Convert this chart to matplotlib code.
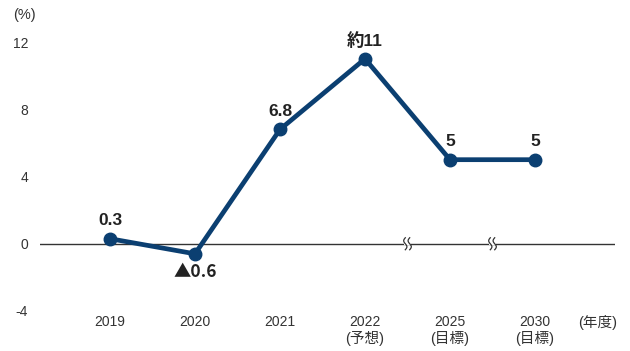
import numpy as np
import matplotlib
matplotlib.use("Agg")
import matplotlib.pyplot as plt
from matplotlib import font_manager

# Data
years = ["2019", "2020", "2021", "2022", "2025", "2030"]
notes = ["", "", "", "(予想)", "(目標)", "(目標)"]
values = [0.3, -0.6, 6.8, 11, 5, 5]
value_labels = ["0.3", "▲0.6", "6.8", "約11", "5", "5"]
yticks = [-4, 0, 4, 8, 12]

installed = {f.name for f in font_manager.fontManager.ttflist}
base = "Liberation Sans Narrow" if "Liberation Sans Narrow" in installed else "Liberation Sans"
fam = [base, "Noto Sans CJK JP", "DejaVu Sans"]
plt.rcParams["font.family"] = fam

NAVY = "#0b3f71"
TXT = "#333333"

fig = plt.figure(figsize=(6.3, 3.51), dpi=100)
W, H = 630, 351
ax = fig.add_axes([40 / W, 1 - 311 / H, (615 - 40) / W, (311 - 42) / H])

x = np.arange(len(years))
# x index 0 sits at 110 px, spacing 85 px
ax.set_xlim((40 - 110) / 85, (615 - 110) / 85)
ax.set_ylim(-4, 12)

for s in ax.spines.values():
    s.set_visible(False)
ax.set_xticks([])
ax.set_yticks(yticks)
ax.set_yticklabels([str(t) for t in yticks])
ax.tick_params(axis="y", length=0, pad=8.5, labelsize=10, labelcolor=TXT)

# zero line
ax.axhline(0, color="#333333", lw=1.0, zorder=1)

# break marks on the zero line between non-consecutive years
inv = ax.transData.inverted()
for mid in (3.5, 4.5):
    cx, cy = ax.transData.transform((mid, 0))
    gap = inv.transform([[cx - 3.5, cy - 1.5], [cx + 3.5, cy + 1.5]])
    ax.add_patch(plt.Rectangle(gap[0], gap[1][0] - gap[0][0], gap[1][1] - gap[0][1],
                               facecolor="white", edgecolor="none", zorder=2))
    for dx in (-2.2, 2.2):
        t = np.linspace(-1, 1, 40)
        px = cx + dx + 1.6 * np.sin(np.pi * t)
        py = cy - 6.0 * t
        d = inv.transform(np.column_stack([px, py]))
        ax.plot(d[:, 0], d[:, 1], color="#333333", lw=0.9, zorder=3, clip_on=False)

# main line
ax.plot(x, values, color=NAVY, lw=3.4, marker="o", ms=9, mfc=NAVY, mec=NAVY,
        zorder=4, clip_on=False, solid_capstyle="round")

# value labels
cjk_first = ["Noto Sans CJK JP", base, "DejaVu Sans"]
for i, (v, lab) in enumerate(zip(values, value_labels)):
    dy = -13 if v < 0 else 13
    ax.annotate(lab, (x[i], v), xytext=(0, dy), textcoords="offset points",
                ha="center", va="center", fontsize=12.5, fontweight="bold",
                color="#222222", family=cjk_first if v < 0 else fam)

# category labels
for i, (yr, nt) in enumerate(zip(years, notes)):
    fig_x = ax.transData.transform((x[i], 0))[0] / W
    fig.text(fig_x, 1 - 322 / H, yr, ha="center", va="center", fontsize=10, color=TXT)
    if nt:
        fig.text(fig_x, 1 - 338 / H, nt, ha="center", va="center", fontsize=10.5,
                 color=TXT, family=fam)

fig.text(598 / W, 1 - 322 / H, "(年度)", ha="center", va="center", fontsize=10.5,
         color=TXT, family=fam)
fig.text(24 / W, 1 - 15 / H, "(%)", ha="center", va="center", fontsize=10.5, color=TXT)

fig.savefig("out.png", dpi=100)
